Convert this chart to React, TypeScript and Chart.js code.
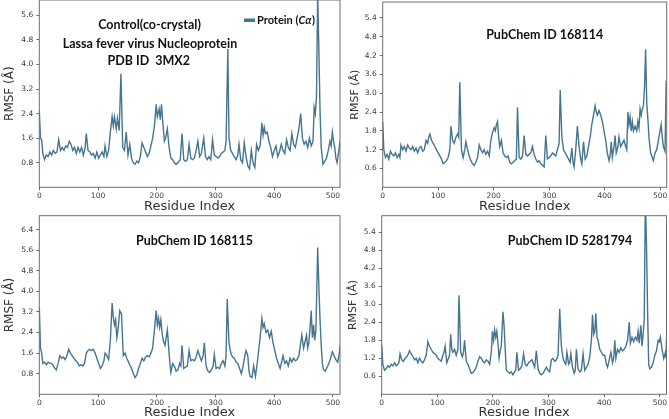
import { useEffect, useRef } from "react";
import { Chart, registerables, type Plugin } from "chart.js";

Chart.register(...registerables);

// residue axis
const residueTicks = [0, 100, 200, 300, 400, 500];

// Control (co-crystal), PDB 3MX2
const controlRes = [0, 2, 4, 6, 9, 12, 15, 18, 21, 24, 27, 30, 33, 36, 39, 42, 45, 48, 51, 54, 57, 60, 63, 66, 69, 72, 75, 78, 80, 83, 86, 89, 92, 95, 98, 101, 104, 107, 110, 112, 115, 118, 121, 124, 126, 128, 131, 133, 136, 139, 142, 145, 148, 151, 154, 157, 160, 163, 166, 169, 172, 175, 178, 181, 184, 187, 190, 193, 196, 199, 201, 204, 206, 208, 210, 213, 215, 218, 221, 224, 227, 230, 233, 236, 240, 243, 246, 249, 252, 255, 258, 261, 264, 267, 270, 273, 276, 280, 283, 286, 289, 292, 295, 298, 301, 304, 307, 310, 313, 316, 318, 321, 323, 326, 329, 332, 335, 338, 340, 343, 346, 349, 352, 355, 358, 361, 364, 367, 370, 373, 376, 379, 381, 383, 385, 388, 391, 394, 397, 400, 403, 406, 409, 412, 415, 418, 421, 424, 427, 430, 433, 436, 439, 442, 445, 448, 451, 454, 457, 460, 463, 466, 468, 470, 472, 474, 476, 478, 480, 483, 486, 489, 492, 495, 497, 499, 501, 503, 505, 507, 510, 512];
const controlRmsf = [2.5, 1.6, 1.55, 1.1, 0.9, 1.05, 1.0, 1.15, 1.05, 1.2, 1.1, 1.15, 1.55, 1.2, 1.3, 1.2, 1.35, 1.3, 1.5, 1.4, 1.2, 1.3, 1.1, 1.3, 1.15, 1.3, 1.05, 1.3, 1.75, 1.2, 1.15, 1.05, 1.1, 0.95, 1.15, 0.95, 1.05, 1.15, 1.0, 1.35, 1.0, 1.2, 1.8, 2.3, 2.0, 2.3, 1.9, 2.25, 1.85, 3.7, 1.3, 1.2, 1.8, 1.05, 1.4, 0.95, 0.8, 0.75, 0.85, 0.8, 1.0, 1.45, 1.3, 1.15, 1.0, 1.1, 1.35, 1.6, 2.0, 2.7, 2.3, 2.55, 2.2, 2.7, 2.2, 1.5, 1.6, 1.9, 1.3, 0.95, 0.9, 0.8, 0.75, 0.8, 0.9, 1.75, 0.9, 0.85, 0.9, 1.4, 0.95, 0.9, 0.95, 1.2, 1.5, 1.0, 1.1, 1.6, 1.0, 0.9, 1.0, 0.9, 1.55, 1.05, 1.0, 0.95, 1.0, 1.1, 1.15, 1.2, 1.5, 4.5, 1.6, 1.2, 1.1, 1.0, 0.9, 1.05, 1.4, 0.9, 0.8, 1.45, 1.0, 0.7, 0.6, 1.2, 0.8, 0.65, 1.4, 1.2, 1.35, 2.1, 1.7, 1.95, 1.75, 1.8, 1.5, 1.3, 1.0, 1.2, 1.35, 1.0, 1.15, 1.4, 1.2, 1.1, 1.55, 1.3, 1.2, 1.75, 1.4, 1.3, 1.6, 1.9, 2.4, 1.6, 1.4, 1.5, 1.3, 1.6, 1.35, 1.5, 2.6, 2.4, 3.0, 6.3, 4.5, 2.5, 1.3, 0.75, 0.85, 0.95, 1.2, 1.5, 1.35, 1.8, 1.5, 1.3, 0.95, 0.8, 1.2, 1.5];
const controlTicks = [0.8, 1.6, 2.4, 3.2, 4.0, 4.8, 5.6];

// PubChem ID 168114
const res168114 = [0, 2, 5, 8, 11, 14, 17, 20, 23, 26, 29, 31, 33, 36, 39, 42, 45, 48, 51, 54, 57, 60, 63, 66, 69, 72, 75, 78, 81, 83, 85, 88, 91, 94, 97, 100, 103, 106, 109, 112, 115, 118, 121, 123, 126, 129, 132, 135, 137, 139, 142, 145, 148, 150, 153, 156, 159, 162, 165, 168, 171, 174, 177, 180, 183, 186, 189, 192, 195, 198, 201, 203, 205, 207, 209, 211, 214, 217, 220, 223, 226, 229, 232, 235, 238, 241, 243, 246, 249, 252, 255, 258, 261, 264, 267, 270, 273, 276, 279, 282, 285, 288, 291, 294, 297, 300, 303, 306, 309, 312, 315, 318, 320, 323, 326, 329, 332, 335, 338, 341, 343, 345, 348, 351, 354, 357, 359, 362, 365, 368, 371, 374, 377, 380, 383, 385, 387, 390, 393, 396, 399, 402, 405, 408, 410, 412, 414, 417, 419, 421, 424, 426, 429, 432, 435, 438, 440, 442, 444, 446, 448, 450, 452, 455, 458, 460, 462, 464, 466, 468, 470, 472, 474, 476, 478, 480, 483, 486, 488, 491, 494, 497, 500, 502, 504, 506, 509, 511];
const rmsf168114 = [2.1, 1.2, 0.95, 1.05, 0.9, 1.15, 1.05, 1.0, 1.1, 0.95, 1.05, 0.95, 1.35, 1.2, 1.3, 1.15, 1.35, 1.25, 1.2, 1.3, 1.15, 1.25, 1.1, 1.25, 1.3, 1.15, 1.2, 1.5, 1.4, 1.6, 1.7, 1.5, 1.4, 1.3, 1.2, 1.1, 1.0, 0.9, 0.75, 0.8, 0.85, 0.95, 1.2, 1.95, 1.5, 1.4, 1.6, 1.7, 1.6, 3.35, 1.2, 0.95, 1.2, 1.45, 1.2, 1.0, 0.85, 0.75, 0.7, 0.8, 0.95, 1.35, 1.2, 1.1, 1.2, 1.05, 1.15, 1.0, 1.5, 1.75, 1.9, 1.8, 2.0, 2.1, 1.6, 1.3, 1.5, 1.1, 1.0, 0.95, 1.0, 0.8, 0.75, 0.8, 0.85, 0.9, 2.55, 0.95, 0.9, 1.0, 1.65, 1.05, 1.0, 1.05, 1.1, 1.3, 1.05, 0.9, 0.8, 0.85, 0.75, 0.7, 0.65, 1.65, 0.9, 0.95, 1.0, 1.1, 1.05, 1.0, 1.2, 1.4, 3.1, 1.6, 1.2, 1.1, 1.0, 0.9, 0.8, 1.25, 0.8, 0.65, 1.2, 1.95, 1.3, 0.9, 0.75, 1.45, 0.9, 1.0, 1.3, 1.6, 2.0, 2.3, 2.6, 2.4, 2.3, 2.45, 2.3, 2.1, 1.8, 1.5, 1.1, 0.85, 1.0, 1.45, 0.95, 1.3, 1.65, 1.1, 1.3, 1.6, 1.3, 1.4, 1.5, 1.3, 1.2, 2.4, 2.0, 2.25, 1.8, 2.1, 1.8, 1.95, 1.8, 2.1, 1.9, 2.5, 2.3, 2.5, 2.6, 3.2, 4.4, 2.7, 2.2, 1.6, 1.1, 0.95, 0.85, 1.1, 1.2, 1.5, 1.8, 2.0, 1.6, 1.3, 1.15, 3.4];
const ticks168114 = [0.6, 1.2, 1.8, 2.4, 3.0, 3.6, 4.2, 4.8, 5.4];

// PubChem ID 168115
const res168115 = [0, 2, 4, 6, 9, 12, 15, 18, 21, 24, 27, 29, 32, 35, 38, 41, 44, 47, 50, 53, 56, 59, 62, 65, 68, 71, 74, 77, 80, 83, 86, 89, 92, 95, 98, 101, 104, 107, 110, 112, 115, 118, 121, 124, 126, 128, 130, 132, 134, 137, 140, 143, 146, 149, 152, 155, 158, 161, 163, 166, 169, 172, 175, 178, 181, 184, 187, 190, 193, 196, 199, 201, 203, 205, 207, 209, 211, 214, 216, 218, 220, 222, 224, 227, 230, 233, 236, 239, 241, 243, 246, 249, 252, 255, 258, 261, 264, 267, 270, 273, 276, 279, 281, 284, 287, 290, 293, 296, 298, 301, 304, 307, 310, 313, 316, 318, 320, 323, 326, 329, 332, 335, 338, 341, 344, 347, 350, 352, 355, 357, 359, 362, 365, 368, 371, 374, 376, 379, 381, 383, 386, 389, 392, 395, 398, 401, 404, 407, 410, 413, 415, 418, 421, 424, 427, 430, 433, 436, 439, 442, 445, 447, 450, 453, 455, 457, 459, 461, 463, 465, 467, 469, 471, 474, 476, 478, 480, 482, 484, 487, 490, 493, 496, 499, 502, 505, 508, 511, 512];
const rmsf168115 = [3.4, 1.8, 1.6, 1.2, 1.25, 1.15, 1.25, 1.2, 1.2, 1.1, 1.0, 0.95, 1.2, 1.5, 1.4, 1.45, 1.35, 1.5, 1.75, 1.6, 1.5, 1.4, 1.3, 1.25, 1.1, 1.15, 1.1, 1.2, 1.6, 1.7, 1.75, 1.7, 1.75, 1.6, 1.4, 1.2, 1.0, 1.1, 1.3, 1.6, 1.5, 1.35, 2.1, 3.55, 3.0, 2.7, 2.9, 2.2, 2.5, 3.25, 3.1, 1.5, 1.6, 1.4, 1.25, 1.1, 0.95, 0.75, 0.65, 0.75, 1.0, 1.2, 1.4, 1.3, 1.45, 1.5, 1.45, 1.6, 1.8, 2.5, 3.25, 2.7, 2.95, 2.6, 2.9, 2.4, 2.1, 1.9, 2.2, 2.5, 1.9, 1.3, 0.85, 1.2, 1.1, 0.9, 0.95, 1.2, 1.1, 1.9, 1.0, 1.05, 1.1, 1.7, 1.3, 1.35, 1.3, 1.45, 1.7, 1.5, 1.3, 1.5, 2.0, 1.1, 0.9, 0.85, 0.95, 1.1, 1.55, 1.0, 1.05, 1.0, 1.2, 1.3, 1.1, 1.5, 3.7, 2.0, 1.6, 1.45, 1.4, 1.25, 1.2, 1.0, 0.8, 1.1, 1.5, 1.7, 1.5, 0.9, 0.7, 0.65, 1.1, 0.7, 1.2, 1.8, 2.2, 2.95, 2.6, 2.75, 2.4, 2.5, 2.2, 2.45, 2.0, 1.7, 1.4, 1.2, 1.0, 1.3, 1.5, 1.2, 1.3, 1.1, 1.4, 1.25, 1.4, 1.3, 1.35, 1.5, 2.0, 2.3, 1.8, 2.1, 2.3, 1.8, 2.0, 2.6, 3.25, 2.2, 2.7, 2.1, 2.5, 5.7, 4.2, 2.9, 1.9, 1.2, 0.95, 0.9, 1.05, 1.2, 1.4, 1.65, 1.5, 1.35, 1.25, 1.6, 1.9];
const ticks168115 = [0.8, 1.6, 2.4, 3.2, 4.0, 4.8, 5.6, 6.4];

// PubChem ID 5281794
const res5281794 = [0, 2, 5, 8, 11, 14, 17, 20, 23, 26, 29, 31, 33, 36, 39, 42, 45, 48, 50, 53, 56, 59, 62, 65, 68, 71, 74, 77, 80, 83, 86, 89, 92, 95, 98, 101, 104, 107, 110, 112, 114, 117, 120, 122, 124, 126, 128, 131, 134, 137, 139, 142, 145, 147, 149, 152, 155, 158, 161, 164, 167, 170, 173, 176, 179, 182, 185, 188, 191, 194, 197, 199, 201, 203, 205, 207, 209, 211, 213, 215, 218, 220, 222, 224, 227, 230, 233, 236, 239, 241, 243, 246, 249, 252, 255, 258, 261, 264, 267, 270, 273, 275, 278, 281, 284, 287, 290, 293, 296, 299, 302, 305, 308, 311, 314, 317, 320, 323, 326, 329, 331, 333, 336, 338, 340, 343, 346, 348, 350, 353, 356, 359, 362, 365, 368, 371, 374, 377, 379, 381, 383, 385, 387, 389, 392, 395, 398, 401, 404, 406, 409, 412, 415, 417, 419, 421, 424, 427, 430, 433, 436, 439, 442, 445, 447, 450, 453, 456, 459, 461, 463, 466, 468, 470, 472, 474, 476, 478, 480, 482, 485, 488, 491, 494, 497, 499, 501, 504, 507, 510, 511, 512];
const rmsf5281794 = [1.65, 1.0, 0.8, 0.85, 0.95, 0.9, 1.0, 0.95, 1.05, 0.95, 1.0, 1.05, 1.35, 1.15, 1.1, 1.2, 1.25, 1.35, 1.45, 1.35, 1.25, 1.15, 1.2, 1.05, 1.2, 1.1, 1.05, 1.15, 1.3, 1.75, 1.6, 1.5, 1.4, 1.35, 1.3, 1.2, 1.15, 1.1, 1.3, 1.4, 1.6, 1.05, 1.2, 1.3, 2.0, 1.5, 1.4, 1.5, 1.3, 1.5, 3.3, 1.4, 1.25, 1.4, 1.8, 1.1, 1.0, 0.85, 0.7, 0.72, 0.8, 0.9, 1.1, 1.25, 1.2, 1.1, 1.05, 1.15, 1.1, 1.0, 1.4, 2.1, 1.8, 2.15, 1.9, 2.1, 1.7, 1.2, 1.45, 1.6, 2.75, 2.3, 1.5, 0.8, 0.75, 0.7, 0.75, 0.65, 0.75, 0.8, 1.4, 0.8, 0.85, 0.95, 1.35, 1.0, 0.95, 1.05, 1.1, 1.15, 1.0, 0.9, 1.45, 0.85, 0.7, 0.65, 0.7, 0.8, 0.9, 0.8, 0.75, 1.15, 1.2, 1.1, 1.15, 1.3, 2.85, 1.6, 1.2, 1.05, 1.0, 1.4, 1.0, 1.05, 1.35, 0.9, 0.7, 0.8, 1.5, 0.85, 0.75, 0.8, 1.35, 0.8, 0.9, 1.0, 1.25, 1.8, 2.65, 2.0, 2.1, 2.7, 1.9, 1.8, 1.5, 1.4, 1.3, 1.3, 1.0, 0.9, 1.15, 1.4, 1.05, 1.2, 1.8, 1.2, 1.5, 1.4, 1.55, 1.45, 1.5, 1.6, 1.8, 2.4, 1.7, 1.9, 1.75, 1.9, 1.8, 2.1, 1.7, 2.3, 1.6, 2.0, 2.5, 6.6, 5.0, 2.8, 1.0, 0.85, 0.9, 1.05, 1.3, 1.45, 1.8, 1.75, 1.9, 1.5, 1.2, 1.4, 1.2, 1.85];
const ticks5281794 = [0.6, 1.2, 1.8, 2.4, 3.0, 3.6, 4.2, 4.8, 5.4];

const LINE = "#46758f";
const AXIS = "#6e6e6e";
const TICK_TEXT = "#3a3a3a";
const TITLE_FONT = "Lato, 'Open Sans', sans-serif";
const AXIS_FONT = "'DejaVu Sans', sans-serif";

type Box = { left: number; top: number; width: number; height: number };
type Area = { left: number; top: number; right: number; bottom: number };
type Label = { text: string; x: number; y: number; size: number };

type PanelSpec = {
  res: number[];
  rmsf: number[];
  yTicks: number[];
  yMax: number;
  box: Box; // canvas position on the page
  area: Area; // plot area on the page
  labels: Label[];
  legend?: boolean;
  yTitleOffset: number;
  yTitleSize: number;
  xTitleOffset: number;
};

const panels: PanelSpec[] = [
  {
    res: controlRes,
    rmsf: controlRmsf,
    yTicks: controlTicks,
    yMax: 6.1,
    box: { left: 0, top: -1, width: 342, height: 217 },
    area: { left: 39.3, top: 0, right: 340, bottom: 187.3 },
    labels: [
      { text: "Control(co-crystal)", x: 149.5, y: 25, size: 12.5 },
      { text: "Lassa fever virus Nucleoprotein", x: 150, y: 44, size: 12.5 },
      { text: "PDB ID  3MX2", x: 148.7, y: 60.7, size: 12.5 },
    ],
    legend: true,
    yTitleOffset: 29.8,
    yTitleSize: 12,
    xTitleOffset: 19.4,
  },
  {
    res: res168114,
    rmsf: rmsf168114,
    yTicks: ticks168114,
    yMax: 5.91,
    box: { left: 342, top: 0, width: 327, height: 216 },
    area: { left: 382.7, top: 2, right: 666.7, bottom: 187.3 },
    labels: [{ text: "PubChem ID 168114", x: 544.7, y: 35, size: 12.5 }],
    yTitleOffset: 28,
    yTitleSize: 11,
    xTitleOffset: 19.4,
  },
  {
    res: res168115,
    rmsf: rmsf168115,
    yTicks: ticks168115,
    yMax: 6.94,
    box: { left: 0, top: 212, width: 342, height: 207 },
    area: { left: 39.3, top: 215.7, right: 340, bottom: 394.3 },
    labels: [{ text: "PubChem ID 168115", x: 194.5, y: 240.7, size: 12.5 }],
    yTitleOffset: 29.8,
    yTitleSize: 12,
    xTitleOffset: 18.3,
  },
  {
    res: res5281794,
    rmsf: rmsf5281794,
    yTicks: ticks5281794,
    yMax: 5.95,
    box: { left: 342, top: 212, width: 327, height: 207 },
    area: { left: 381.7, top: 215.7, right: 666.5, bottom: 394.3 },
    labels: [{ text: "PubChem ID 5281794", x: 570, y: 240.7, size: 12.5 }],
    yTitleOffset: 28.2,
    yTitleSize: 11,
    xTitleOffset: 18.7,
  },
];

function overlay(spec: PanelSpec): Plugin<"line"> {
  return {
    id: "overlay",
    afterDraw(chart) {
      const { ctx, chartArea: a } = chart;
      const ox = spec.box.left;
      const oy = spec.box.top;
      ctx.save();

      ctx.strokeStyle = AXIS;
      ctx.lineWidth = 1;
      ctx.strokeRect(a.left, a.top, a.right - a.left, a.bottom - a.top);

      ctx.fillStyle = "#111";
      ctx.textAlign = "center";
      ctx.textBaseline = "middle";
      for (const l of spec.labels) {
        ctx.font = `bold ${l.size}px ${TITLE_FONT}`;
        ctx.fillText(l.text, l.x - ox, l.y - oy);
      }

      if (spec.legend) {
        ctx.fillStyle = LINE;
        ctx.fillRect(244 - ox, 18.5 - oy, 11, 3.5);
        ctx.fillStyle = "#111";
        ctx.textAlign = "left";
        let x = 257 - ox;
        const y = 20.5 - oy;
        ctx.font = `bold 11px ${TITLE_FONT}`;
        ctx.fillText("Protein (", x, y);
        x += ctx.measureText("Protein (").width;
        ctx.font = `italic bold 11px ${TITLE_FONT}`;
        ctx.fillText("Cα", x, y);
        x += ctx.measureText("Cα").width + 0.5;
        ctx.font = `bold 11px ${TITLE_FONT}`;
        ctx.fillText(")", x, y);
      }

      ctx.fillStyle = "#333";
      ctx.textAlign = "center";
      ctx.font = `13px ${AXIS_FONT}`;
      ctx.fillText("Residue Index", (a.left + a.right) / 2, a.bottom + spec.xTitleOffset);

      ctx.translate(a.left - spec.yTitleOffset, (a.top + a.bottom) / 2);
      ctx.rotate(-Math.PI / 2);
      ctx.font = `${spec.yTitleSize}px ${AXIS_FONT}`;
      ctx.fillText("RMSF (Å)", 0, 0);

      ctx.restore();
    },
  };
}

function Panel({ spec }: { spec: PanelSpec }) {
  const ref = useRef<HTMLCanvasElement | null>(null);

  useEffect(() => {
    const el = ref.current;
    if (!el) return;
    const { box, area } = spec;
    const yWidth = area.left - box.left;
    const xHeight = box.top + box.height - area.bottom;

    const chart = new Chart(el, {
      type: "line",
      data: {
        datasets: [
          {
            data: spec.res.map((r, i) => ({ x: r, y: spec.rmsf[i] })),
            borderColor: LINE,
            borderWidth: 1.4,
            pointRadius: 0,
            tension: 0,
            fill: false,
          },
        ],
      },
      options: {
        animation: false,
        responsive: false,
        devicePixelRatio: 1,
        layout: {
          autoPadding: false,
          padding: {
            left: 0,
            top: area.top - box.top,
            right: box.left + box.width - area.right,
            bottom: 0,
          },
        },
        plugins: {
          legend: { display: false },
          tooltip: { enabled: false },
        },
        scales: {
          x: {
            type: "linear",
            min: 0,
            max: 512,
            afterBuildTicks: (s) => {
              s.ticks = residueTicks.map((v) => ({ value: v }));
            },
            afterFit: (s) => {
              s.height = xHeight;
              s.paddingLeft = 0;
              s.paddingRight = 0;
            },
            grid: { display: true, drawOnChartArea: false, drawTicks: true, tickLength: 3, color: AXIS },
            border: { display: false },
            ticks: {
              padding: 1,
              maxRotation: 0,
              autoSkip: false,
              color: TICK_TEXT,
              font: { family: AXIS_FONT, size: 7.5 },
              callback: (v) => String(v),
            },
          },
          y: {
            type: "linear",
            min: 0,
            max: spec.yMax,
            afterBuildTicks: (s) => {
              s.ticks = spec.yTicks.map((v) => ({ value: v }));
            },
            afterFit: (s) => {
              s.width = yWidth;
              s.paddingTop = 0;
              s.paddingBottom = 0;
            },
            grid: { display: true, drawOnChartArea: false, drawTicks: true, tickLength: 3, color: AXIS },
            border: { display: false },
            ticks: {
              padding: 3,
              autoSkip: false,
              color: TICK_TEXT,
              font: { family: AXIS_FONT, size: 7.5 },
              callback: (v) => Number(v).toFixed(1),
            },
          },
        },
      },
      plugins: [overlay(spec)],
    });

    return () => {
      chart.destroy();
    };
  }, [spec]);

  return (
    <canvas
      ref={ref}
      width={spec.box.width}
      height={spec.box.height}
      style={{
        position: "absolute",
        left: spec.box.left,
        top: spec.box.top,
        width: spec.box.width,
        height: spec.box.height,
      }}
    />
  );
}

export default function App() {
  return (
    <div
      style={{
        position: "fixed",
        left: 0,
        top: 0,
        width: 669,
        height: 419,
        overflow: "hidden",
        background: "#fff",
      }}
    >
      {panels.map((p, i) => (
        <Panel key={i} spec={p} />
      ))}
    </div>
  );
}
